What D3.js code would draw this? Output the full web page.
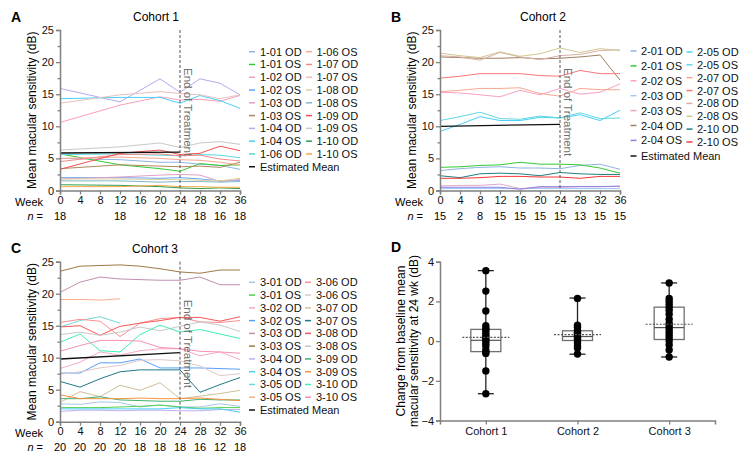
<!DOCTYPE html>
<html><head><meta charset="utf-8">
<script src="https://cdn.jsdelivr.net/npm/d3@7"></script>
<style>
body{margin:0;background:#fff;}
svg{font-family:Arial,"Liberation Sans",sans-serif;}
</style></head>
<body>
<svg id="c" width="752" height="459"></svg>
<script>
// ---------- DATA ----------
const weeksAll = [0,4,8,12,16,20,24,28,32,36];
const weeksA = [0,12,20,24,28,32,36];
const nA = [18,null,null,18,null,12,18,18,16,18];
const nB = [15,2,8,15,15,15,15,13,15,15];
const nC = [20,20,20,20,18,18,18,16,12,18];

const namesA = ["1-01 OD","1-01 OS","1-02 OD","1-02 OS","1-03 OD","1-03 OS","1-04 OD","1-04 OS","1-06 OD",
                "1-06 OS","1-07 OD","1-07 OS","1-08 OD","1-08 OS","1-09 OD","1-09 OS","1-10 OD","1-10 OS"];
const colorsA = ["#8eb4e3","#33cc33","#f8a0b8","#5fa8f8","#e0a0c8","#b08860","#b8a8f0","#48d0f8","#58d8e0",
                 "#f8a890","#f88888","#e8c0c0","#e0d0a0","#80b8c8","#f85050","#c8c8c8","#30a050","#f8a848"];
const valuesA = [
  [5.0,4.8,4.4,4.4,4.1,3.9,3.3],
  [5.7,4.0,3.4,3.0,4.2,3.9,4.0],
  [10.6,13.3,14.6,14.1,14.2,13.9,14.8],
  [2.0,2.0,1.9,2.0,1.8,1.5,1.6],
  [1.8,2.1,2.4,2.5,2.4,1.4,1.7],
  [3.4,4.0,3.8,3.7,3.8,3.6,4.4],
  [15.9,13.8,17.4,15.3,17.4,16.7,14.9],
  [14.3,14.5,14.5,13.6,14.8,14.0,12.8],
  [5.6,5.7,5.5,5.4,5.6,5.5,5.1],
  [5.0,5.2,5.0,4.8,4.7,4.4,4.0],
  [4.5,5.6,5.7,5.4,5.5,4.9,4.6],
  [13.6,14.9,15.4,15.1,14.9,14.3,14.9],
  [1.8,1.8,1.7,1.7,1.6,1.5,1.9],
  [1.5,1.5,1.3,1.4,1.4,1.3,1.4],
  [3.3,5.8,6.3,5.6,5.8,6.9,6.2],
  [6.3,6.8,7.4,6.7,7.4,7.6,7.2],
  [0.9,0.8,0.6,0.4,0.3,0.4,0.3],
  [0.6,0.6,0.8,0.6,0.6,0.5,0.5]
];
const meanWeeks = [0,24];
const meanA = [5.84,5.97];

const namesB = ["2-01 OD","2-01 OS","2-02 OS","2-03 OD","2-03 OS","2-04 OD","2-04 OS",
                "2-05 OD","2-05 OS","2-07 OD","2-07 OS","2-08 OD","2-08 OS","2-10 OD","2-10 OS"];
const colorsB = ["#8eb4e3","#33cc33","#f8a0c8","#a0c8f8","#e0a8c8","#a08060","#9080e0",
                 "#48d0f8","#60d8e0","#f8a890","#f87878","#d8b0a8","#d0c890","#208080","#f83838"];
const valuesB = [
  [3.1,3.4,3.6,3.7,3.5,3.5,3.4,3.9,4.1,3.3],
  [3.6,3.7,3.9,4.0,4.4,4.1,4.1,4.0,3.5,2.7],
  [15.3,15.2,14.9,14.6,15.6,14.9,15.9,15.0,15.3,16.6],
  [0.3,0.3,0.3,0.3,0.3,0.3,0.3,0.3,0.3,0.3],
  [0.7,0.8,0.8,1.0,0.3,0.5,0.5,0.6,0.6,0.6],
  [20.8,20.7,20.6,20.6,20.7,20.5,20.6,20.8,21.1,17.2],
  [0.5,0.5,0.5,0.5,0.2,0.6,0.6,0.6,0.6,0.7],
  [9.2,10.3,11.5,10.9,10.9,11.4,11.3,11.8,10.9,12.5],
  [10.9,11.5,12.2,11.2,11.1,11.6,11.3,12.1,11.2,11.3],
  [15.4,15.6,15.9,15.9,16.0,15.1,14.7,15.9,15.7,15.7],
  [17.5,17.8,18.2,18.2,18.2,17.9,17.8,18.7,18.2,18.2],
  [21.0,20.8,20.3,21.5,20.8,20.4,21.0,21.2,21.8,21.9],
  [21.4,21.0,20.7,21.6,20.9,21.3,22.2,21.5,22.1,21.8],
  [2.3,2.0,2.6,2.7,2.6,2.3,2.8,2.6,2.5,2.5],
  [1.9,1.9,2.0,2.2,2.2,2.1,2.1,1.9,2.2,2.2]
];
const meanB = [10.0,10.3];

const namesC = ["3-01 OD","3-01 OS","3-02 OD","3-02 OS","3-03 OD","3-03 OS","3-04 OD","3-04 OS","3-05 OD","3-05 OS",
                "3-06 OD","3-06 OS","3-07 OD","3-07 OS","3-08 OD","3-08 OS","3-09 OD","3-09 OS","3-10 OD","3-10 OS"];
const colorsC = ["#a8c8e8","#50d050","#f8a8c8","#58a0f8","#c090b0","#a07848","#c0b0f0","#48d0f8","#70d8d8","#f8b090",
                 "#f89090","#e0c8c8","#d0c098","#207888","#f85858","#c8c8c8","#40b070","#f89040","#40f0b0","#f890b8"];
const valuesC = [
  [2.8,2.7,3.1,3.0,2.3,2.6,2.3,2.3,2.8,2.4],
  [2.2,2.2,2.2,2.3,2.4,2.6,2.3,2.1,2.2,2.2],
  [8.3,9.3,10.9,10.4,11.1,11.4,11.4,10.3,10.9,9.7],
  [7.6,7.6,9.2,9.2,9.8,8.4,8.4,8.4,8.3,8.2],
  [20.2,21.8,22.6,22.3,22.2,22.1,22.1,22.6,21.4,21.4],
  [23.5,24.3,24.4,24.5,24.3,23.9,23.4,23.2,23.7,23.7],
  [1.6,1.8,1.8,1.7,1.8,1.8,1.7,1.7,1.9,1.9],
  [2.0,2.0,2.0,2.0,2.0,2.0,2.2,2.0,2.0,1.5],
  [14.8,15.8,16.4,15.4,null,null,null,null,null,null],
  [19.1,19.1,19.0,19.2,null,null,null,null,null,null],
  [15.5,16.0,15.7,13.3,15.4,16.1,16.3,15.6,15.5,15.8],
  [7.4,7.8,8.4,8.8,9.6,9.7,9.5,8.7,7.2,7.5],
  [3.0,4.7,3.9,5.7,4.9,6.1,3.6,4.0,4.4,4.9],
  [6.3,5.4,6.7,7.8,8.1,8.1,8.1,4.6,5.8,6.9],
  [14.8,15.0,13.5,14.9,15.4,15.8,16.3,16.3,15.7,16.4],
  [13.6,14.0,13.5,14.0,14.8,14.2,14.9,15.6,15.1,14.1],
  [3.6,3.6,3.9,3.4,3.3,3.2,3.2,3.5,3.4,3.4],
  [4.2,3.6,3.6,3.6,3.7,3.6,3.6,3.7,3.5,3.3],
  [12.4,13.7,11.1,10.9,13.6,15.1,14.0,14.4,13.7,13.0],
  [11.0,11.9,12.7,12.7,12.6,11.6,11.4,11.0,10.9,10.7]
];
const meanC = [9.8,10.8];

const cohorts = ["Cohort 1","Cohort 2","Cohort 3"];
const changeC1 = [3.55,2.52,1.52,0.78,0.65,0.55,0.42,0.3,0.18,0.08,0.0,-0.12,-0.25,-0.45,-0.55,-0.62,-1.5,-2.65];
const changeC2 = [2.15,0.8,0.7,0.55,0.45,0.38,0.3,0.22,0.15,0.08,0.02,-0.1,-0.25,-0.35,-0.65];
const changeC3 = [2.93,2.15,2.0,1.85,1.7,1.55,1.35,1.1,0.9,0.75,0.6,0.45,0.3,0.15,0.0,-0.2,-0.45,-0.8];
const boxMin = [-2.65,-0.66,-0.8];
const boxQ1 = [-0.53,0.03,0.08];
const boxMed = [0.04,0.23,0.68];
const boxQ3 = [0.59,0.52,1.71];
const boxMax = [3.55,2.17,2.93];
const boxMean = [0.19,0.33,0.85];

// ---------- DRAW ----------
const svg = d3.select("#c");
const AX = "#808080";

function panel(o){
  const g = svg.append("g");
  const x = d3.scaleLinear([0,36],[o.x0,o.x1]);
  const y = d3.scaleLinear([0,25],[o.y0,o.y1]);
  // series
  const line = d3.line().defined(d=>d[1]!=null).x(d=>x(d[0])).y(d=>y(d[1]));
  o.values.forEach((vals,i)=>{
    g.append("path").attr("d",line(vals.map((v,j)=>[o.weeks[j],v])))
      .attr("fill","none").attr("stroke",o.colors[i]).attr("stroke-width",1);
  });
  g.append("path").attr("d",line(o.mean.map((v,j)=>[meanWeeks[j],v])))
    .attr("fill","none").attr("stroke","#111").attr("stroke-width",1.3);
  // end of treatment
  g.append("line").attr("x1",x(24)).attr("x2",x(24)).attr("y1",y(25)).attr("y2",y(0))
    .attr("stroke","#555").attr("stroke-width",1).attr("stroke-dasharray","3,2");
  g.append("text").attr("transform",`translate(${x(24)+8},${y(25)+38}) rotate(90)`)
    .attr("font-size",11.5).attr("fill","#707070").attr("dominant-baseline","central").text("End of Treatment");
  // axes
  const ya = g.append("g").attr("transform",`translate(${o.x0},0)`)
    .call(d3.axisLeft(y).tickValues([0,5,10,15,20,25]).tickSize(4).tickPadding(2));
  const ym = g.append("g").attr("transform",`translate(${o.x0},0)`)
    .call(d3.axisLeft(y).tickValues([2.5,7.5,12.5,17.5,22.5]).tickSize(2.5).tickFormat(""));
  const xa = g.append("g").attr("transform",`translate(0,${o.y0})`)
    .call(d3.axisBottom(x).tickValues(weeksAll).tickSize(4).tickPadding(2));
  [ya,ym,xa].forEach(a=>{
    a.select(".domain").attr("stroke",AX).attr("stroke-width",1.5);
    a.selectAll(".tick line").attr("stroke",AX).attr("stroke-width",1.3);
    a.selectAll("text").attr("font-size",11).attr("fill","#111").attr("font-family","Arial,'Liberation Sans',sans-serif");
  });
  ym.select(".domain").remove();
  // week row labels
  g.append("text").attr("x",o.x0-17).attr("y",o.y0+11).attr("text-anchor","end")
    .attr("dominant-baseline","central").attr("font-size",11).text("Week");
  const nt = g.append("text").attr("x",o.x0-17).attr("y",o.y0+25).attr("text-anchor","end")
    .attr("dominant-baseline","central").attr("font-size",11);
  nt.append("tspan").attr("font-style","italic").text("n");
  nt.append("tspan").text(" =");
  weeksAll.forEach((w,i)=>{
    if(o.n[i]!=null) g.append("text").attr("x",x(w)).attr("y",o.y0+25).attr("text-anchor","middle")
      .attr("dominant-baseline","central").attr("font-size",11).text(o.n[i]);
  });
  // y label
  g.append("text").attr("transform",`translate(${o.x0-28},${(o.y0+o.y1)/2}) rotate(-90)`)
    .attr("text-anchor","middle").attr("dominant-baseline","central").attr("font-size",12).text("Mean macular sensitivity (dB)");
  // title and letter
  g.append("text").attr("x",o.tx).attr("y",o.y1-13).attr("text-anchor","middle")
    .attr("dominant-baseline","central").attr("font-size",12).text(o.title);
  g.append("text").attr("x",o.lx).attr("y",o.y1-8.5).attr("font-size",14).attr("font-weight","bold").text(o.letter);
  // legend
  o.legend.forEach(col=>{
    col.items.forEach((it,k)=>{
      const yy = col.ys[k];
      g.append("line").attr("x1",col.mx).attr("x2",col.mx+6).attr("y1",yy).attr("y2",yy)
        .attr("stroke",it.c).attr("stroke-width",1.5);
      g.append("text").attr("x",col.tx).attr("y",yy).attr("dominant-baseline","central")
        .attr("font-size",11).attr("fill","#111").text(it.n);
    });
  });
}
function items(names,colors,a,b){ return names.slice(a,b).map((n,i)=>({n,c:colors[a+i]})); }
function seq(y0,dy,k){ return d3.range(k).map(i=>y0+i*dy); }
const meanItem = {n:"Estimated Mean",c:"#111"};

panel({x0:60,x1:240,y0:190.5,y1:30,weeks:weeksA,values:valuesA,colors:colorsA,mean:meanA,n:nA,
  title:"Cohort 1",tx:156,lx:11,letter:"A",
  legend:[{mx:249,tx:260,items:items(namesA,colorsA,0,9).concat([meanItem]),ys:seq(51.7,12.78,10)},
          {mx:306,tx:316.5,items:items(namesA,colorsA,9,18),ys:seq(51.7,12.78,9)}]});
panel({x0:440,x1:620,y0:190.5,y1:30,weeks:weeksAll,values:valuesB,colors:colorsB,mean:meanB,n:nB,
  title:"Cohort 2",tx:543,lx:391,letter:"B",
  legend:[{mx:630.5,tx:641,items:items(namesB,colorsB,0,7).concat([meanItem]),ys:seq(51,14.9,7).concat([156])},
          {mx:686.5,tx:697,items:items(namesB,colorsB,7,15),ys:seq(52,12.85,8)}]});
panel({x0:60,x1:240,y0:421.7,y1:261.7,weeks:weeksAll,values:valuesC,colors:colorsC,mean:meanC,n:nC,
  title:"Cohort 3",tx:155,lx:11,letter:"C",
  legend:[{mx:249,tx:260,items:items(namesC,colorsC,0,10).concat([meanItem]),ys:seq(282.3,12.77,11)},
          {mx:305,tx:316,items:items(namesC,colorsC,10,20),ys:seq(282.3,12.77,10)}]});

// ---------- Panel D ----------
(function(){
  const g = svg.append("g");
  const x = d3.scalePoint(cohorts,[440,715]).padding(0.5);
  const y = d3.scaleLinear([-4,4],[420.5,261.7]);
  const data = [changeC1,changeC2,changeC3];
  const bw = 30, cw = 16, mw = 47;
  cohorts.forEach((c,i)=>{
    const cx = x(c);
    g.append("line").attr("x1",cx).attr("x2",cx).attr("y1",y(boxMin[i])).attr("y2",y(boxMax[i]))
      .attr("stroke","#222").attr("stroke-width",1.3);
    [boxMin[i],boxMax[i]].forEach(v=>g.append("line").attr("x1",cx-cw/2).attr("x2",cx+cw/2)
      .attr("y1",y(v)).attr("y2",y(v)).attr("stroke","#222").attr("stroke-width",1.3));
    g.append("rect").attr("x",cx-bw/2).attr("width",bw).attr("y",y(boxQ3[i])).attr("height",y(boxQ1[i])-y(boxQ3[i]))
      .attr("fill","none").attr("stroke","#707070").attr("stroke-width",1.3);
    g.append("line").attr("x1",cx-bw/2).attr("x2",cx+bw/2).attr("y1",y(boxMed[i])).attr("y2",y(boxMed[i]))
      .attr("stroke","#555").attr("stroke-width",1.2);
    data[i].forEach(v=>g.append("circle").attr("cx",cx).attr("cy",y(v)).attr("r",3.7).attr("fill","#000"));
    g.append("line").attr("x1",cx-mw/2).attr("x2",cx+mw/2).attr("y1",y(boxMean[i])).attr("y2",y(boxMean[i]))
      .attr("stroke","#555").attr("stroke-width",1.2).attr("stroke-dasharray","2,1.5");
  });
  const ya = g.append("g").attr("transform","translate(440,0)")
    .call(d3.axisLeft(y).tickValues([-4,-2,0,2,4]).tickSize(4).tickPadding(2));
  const xa = g.append("g").attr("transform","translate(0,420.5)")
    .call(d3.axisBottom(x).tickSize(4).tickPadding(3));
  [ya,xa].forEach(a=>{
    a.select(".domain").attr("stroke",AX).attr("stroke-width",1.5);
    a.selectAll(".tick line").attr("stroke",AX).attr("stroke-width",1.3);
    a.selectAll("text").attr("font-size",11).attr("fill","#111").attr("font-family","Arial,'Liberation Sans',sans-serif");
  });
  const yl = g.append("text").attr("transform","translate(407,341) rotate(-90)")
    .attr("text-anchor","middle").attr("font-size",12);
  yl.append("tspan").attr("x",0).attr("dy","-0.2em").text("Change from baseline mean");
  yl.append("tspan").attr("x",0).attr("dy","1.1em").text("macular sensitivity at 24 wk (dB)");
  g.append("text").attr("x",391).attr("y",252).attr("font-size",14).attr("font-weight","bold").text("D");
})();
</script>
</body></html>
